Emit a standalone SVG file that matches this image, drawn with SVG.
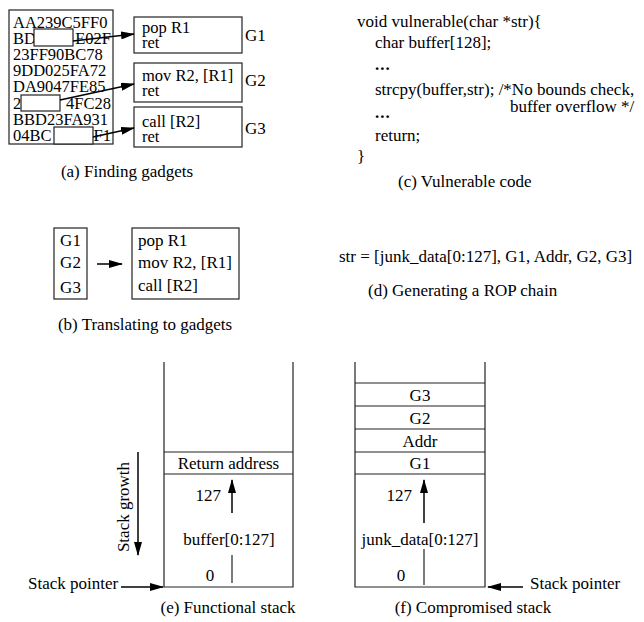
<svg xmlns="http://www.w3.org/2000/svg" width="644" height="622" viewBox="0 0 644 622">
  <defs>
    <marker id="arrow" markerWidth="14" markerHeight="8" refX="13" refY="4" orient="auto" markerUnits="userSpaceOnUse">
      <path d="M0,0 L14,4 L0,8 z" fill="#000"/>
    </marker>
    <style>
      text { font-family: "Liberation Serif", "Times New Roman", serif; font-size: 17px; fill: #000; }
      .tight { font-size: 16.5px; }
      .box { fill: #fff; stroke: #222; stroke-width: 1.2; }
      .ln { stroke: #222; stroke-width: 1.2; fill: none; }
      .arr { stroke: #000; stroke-width: 1.5; fill: none; marker-end: url(#arrow); }
      .mid { text-anchor: middle; }
      .end { text-anchor: end; }
      .dots { font-weight: bold; letter-spacing: 1px; }
    </style>
  </defs>

  <rect width="644" height="622" fill="#fff"/>

  <!-- (a) memory dump with gadget locations -->
  <g id="hexdump" class="tight">
    <rect class="box" x="9" y="10" width="104" height="134"/>
    <text class="tight" x="13" y="27.5">AA239C5FF0</text>
    <text class="tight" x="13" y="44">BD</text>
    <text class="tight end" x="111" y="44">E02F</text>
    <text class="tight" x="13" y="60">23FF90BC78</text>
    <text class="tight" x="13" y="76">9DD025FA72</text>
    <text class="tight" x="13" y="92">DA9047FE85</text>
    <text class="tight" x="13" y="108.5">2</text>
    <text class="tight end" x="111" y="108.5">4FC28</text>
    <text class="tight" x="13" y="125">BBD23FA931</text>
    <text class="tight" x="13" y="141">04BC</text>
    <text class="tight end" x="111" y="141">F1</text>
    <rect class="box" x="34" y="29" width="39" height="17"/>
    <rect class="box" x="21" y="95" width="39" height="16"/>
    <rect class="box" x="54" y="127" width="39" height="17"/>
  </g>

  <g id="gadget-g1">
    <rect class="box" x="134" y="17" width="108" height="36"/>
    <text class="tight" x="142" y="32.5">pop R1</text>
    <text class="tight" x="142" y="48">ret</text>
    <text x="245" y="41">G1</text>
  </g>
  <g id="gadget-g2">
    <rect class="box" x="134" y="63" width="108" height="39"/>
    <text class="tight" x="142" y="80.5">mov R2, [R1]</text>
    <text class="tight" x="142" y="96">ret</text>
    <text x="245" y="86">G2</text>
  </g>
  <g id="gadget-g3">
    <rect class="box" x="134" y="107" width="108" height="40"/>
    <text class="tight" x="142" y="126.5">call [R2]</text>
    <text class="tight" x="142" y="142">ret</text>
    <text x="245" y="134">G3</text>
  </g>

  <g id="connectors">
    <line class="arr" x1="73" y1="41" x2="134" y2="34"/>
    <line class="arr" x1="60" y1="100" x2="134" y2="84"/>
    <line class="arr" x1="93" y1="137" x2="134" y2="128"/>
    <line class="arr" x1="97" y1="264" x2="122" y2="264"/>
  </g>

  <text class="mid" x="127" y="177">(a) Finding gadgets</text>

  <!-- (b) gadget list -->
  <g id="gadget-list">
    <rect class="box" x="54" y="228" width="33" height="71"/>
    <text class="mid" x="70.5" y="246">G1</text>
    <text class="mid" x="70.5" y="268">G2</text>
    <text class="mid" x="70.5" y="293">G3</text>
  </g>
  <g id="gadget-code">
    <rect class="box" x="132" y="228" width="107" height="71"/>
    <text x="138" y="246">pop R1</text>
    <text x="138" y="268">mov R2, [R1]</text>
    <text x="138" y="291">call [R2]</text>
  </g>
  <text class="mid" x="145" y="330">(b) Translating to gadgets</text>

  <!-- (c) vulnerable function -->
  <g id="code">
    <text x="357" y="27">void vulnerable(char *str){</text>
    <text x="375" y="48">char buffer[128];</text>
    <text class="dots" x="375" y="70">...</text>
    <text x="375" y="95">strcpy(buffer,str); /*No bounds check,</text>
    <text x="510" y="112">buffer overflow */</text>
    <text class="dots" x="375" y="118">...</text>
    <text x="375" y="141">return;</text>
    <text x="357" y="162">}</text>
  </g>
  <text x="398" y="187">(c) Vulnerable code</text>

  <!-- (d) ROP chain -->
  <text x="339" y="262">str = [junk_data[0:127], G1, Addr, G2, G3]</text>
  <text x="368" y="296">(d) Generating a ROP chain</text>

  <!-- (e) functional stack -->
  <g id="functional-stack">
    <path class="ln" d="M164,362 V587 H293 V362"/>
    <line class="ln" x1="164" y1="452" x2="293" y2="452"/>
    <line class="ln" x1="164" y1="474" x2="293" y2="474"/>
    <text class="mid" x="228.5" y="469">Return address</text>
    <text class="end" x="221" y="501">127</text>
    <line class="ln" x1="232" y1="583" x2="232" y2="555"/>
    <line class="arr" x1="232" y1="513" x2="232" y2="480"/>
    <text class="mid" x="229" y="545">buffer[0:127]</text>
    <text class="mid" x="210" y="581">0</text>
  </g>
  <g id="stack-growth">
    <text class="mid" transform="translate(129,507) rotate(-90)">Stack growth</text>
    <line class="arr" x1="138" y1="452" x2="138" y2="555"/>
  </g>
  <g id="stack-pointer-e">
    <text x="28" y="589">Stack pointer</text>
    <line class="arr" x1="121" y1="587" x2="163" y2="587"/>
  </g>
  <text class="mid" x="228" y="613">(e) Functional stack</text>

  <!-- (f) compromised stack -->
  <g id="compromised-stack">
    <path class="ln" d="M355,362 V587 H485 V362"/>
    <line class="ln" x1="355" y1="383" x2="485" y2="383"/>
    <line class="ln" x1="355" y1="406" x2="485" y2="406"/>
    <line class="ln" x1="355" y1="429" x2="485" y2="429"/>
    <line class="ln" x1="355" y1="452" x2="485" y2="452"/>
    <line class="ln" x1="355" y1="474" x2="485" y2="474"/>
    <text class="mid" x="420" y="401">G3</text>
    <text class="mid" x="420" y="424">G2</text>
    <text class="mid" x="420" y="447">Addr</text>
    <text class="mid" x="420" y="469">G1</text>
    <text class="end" x="412" y="501">127</text>
    <line class="ln" x1="424" y1="585" x2="424" y2="549"/>
    <line class="arr" x1="424" y1="523" x2="424" y2="480"/>
    <text class="mid" x="420" y="545">junk_data[0:127]</text>
    <text class="mid" x="401" y="581">0</text>
  </g>
  <g id="stack-pointer-f">
    <line class="arr" x1="523" y1="587" x2="488" y2="587"/>
    <text x="530" y="589">Stack pointer</text>
  </g>
  <text class="mid" x="473" y="613">(f) Compromised stack</text>
</svg>
